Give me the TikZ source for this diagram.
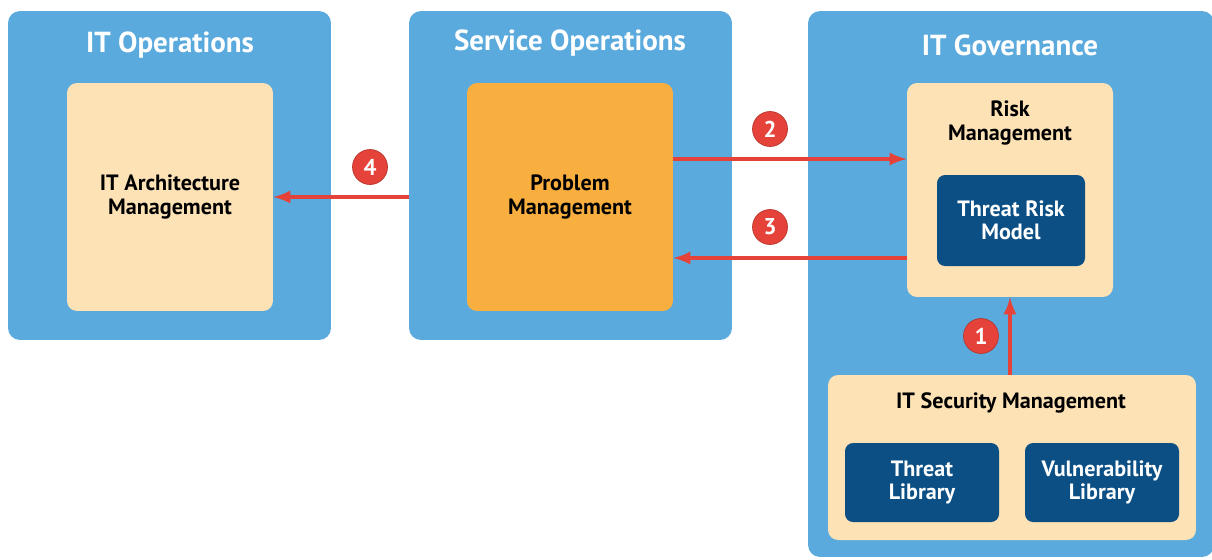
\documentclass[tikz,border=0pt]{standalone}
\usepackage{fontspec}
\setmainfont{PT Sans}
\usepackage{xcolor}
\usepackage{tikz}
\usetikzlibrary{positioning,arrows,shapes}
\definecolor{areablue}{HTML}{5AAADD}
\definecolor{cream}{HTML}{FDE2B6}
\definecolor{proborange}{HTML}{F8AF3F}
\definecolor{darkblue}{HTML}{0B4F85}
\definecolor{flowred}{HTML}{E5433A}
\tikzset{
area/.style={fill=areablue, rounded corners=0.24cm, inner sep=0pt, minimum width=6.46cm, minimum height=6.58cm},
areatitle/.style={text=white, font=\bfseries\fontsize{16.5}{19}\selectfont},
process/.style={fill=cream, rounded corners=0.2cm, align=center, font=\bfseries\fontsize{12.6}{13.2}\selectfont},
repo/.style={fill=darkblue, rounded corners=0.16cm, text=white, align=center, font=\bfseries\fontsize{12.6}{13.2}\selectfont},
flow/.style={draw=flowred, line width=2.3pt, -latex},
badge/.style={circle, fill=flowred, draw=flowred!80!black, thin, text=white, inner sep=0pt, minimum size=0.7cm, font=\bfseries\fontsize{13}{15}\selectfont}
}
\begin{document}
\begin{tikzpicture}[x=0.02cm, y=-0.02cm]
  \useasboundingbox (0,0) rectangle (1212,559);
  % areas
  \node[area] (ops) at (169.5,175.5) {};
  \node[area] (svc) at (570.5,175.5) {};
  \node[area, minimum width=8.12cm, minimum height=10.92cm] (gov) at (1011,284) {};
  \node[areatitle] (opstitle) at (170,45) {IT Operations};
  \node[areatitle] (svctitle) at (570,43) {Service Operations};
  \node[areatitle] (govtitle) at (1010,45) {IT Governance};
  % processes
  \node[process, minimum width=4.12cm, minimum height=4.56cm] (arch) at (170,197) {IT Architecture\\Management};
  \node[process, fill=proborange, minimum width=4.12cm, minimum height=4.56cm] (prob) at (570,197) {Problem\\Management};
  \node[process, minimum width=4.12cm, minimum height=4.28cm] (risk) at (1010,190) {};
  \node[font=\bfseries\fontsize{12.6}{13.2}\selectfont, align=center] (risktitle) at (1010,123) {Risk\\Management};
  \node[repo, minimum width=2.96cm, minimum height=1.82cm] (trm) at (1011,220.5) {Threat Risk\\Model};
  \node[process, minimum width=7.36cm, minimum height=3.3cm] (sec) at (1012,457.5) {};
  \node[font=\bfseries\fontsize{12.6}{13.2}\selectfont] (sectitle) at (1011,403) {IT Security Management};
  \node[repo, minimum width=3.08cm, minimum height=1.58cm] (threatlib) at (922,482.5) {Threat\\Library};
  \node[repo, minimum width=3.08cm, minimum height=1.58cm] (vulnlib) at (1102,482.5) {Vulnerability\\Library};
  % flows
  \draw[flow] (risk.south |- sec.north) -- (risk.south);
  \draw[flow] (prob.east |- 0,159) -- (risk.west |- 0,159);
  \draw[flow] (risk.west |- 0,258) -- (prob.east |- 0,258);
  \draw[flow] (svc.west |- arch.east) -- (arch.east);
  \node[badge] (n1) at (981,336) {1};
  \node[badge] (n2) at (770,129) {2};
  \node[badge] (n3) at (770,227) {3};
  \node[badge] (n4) at (370,167) {4};
\end{tikzpicture}
\end{document}
